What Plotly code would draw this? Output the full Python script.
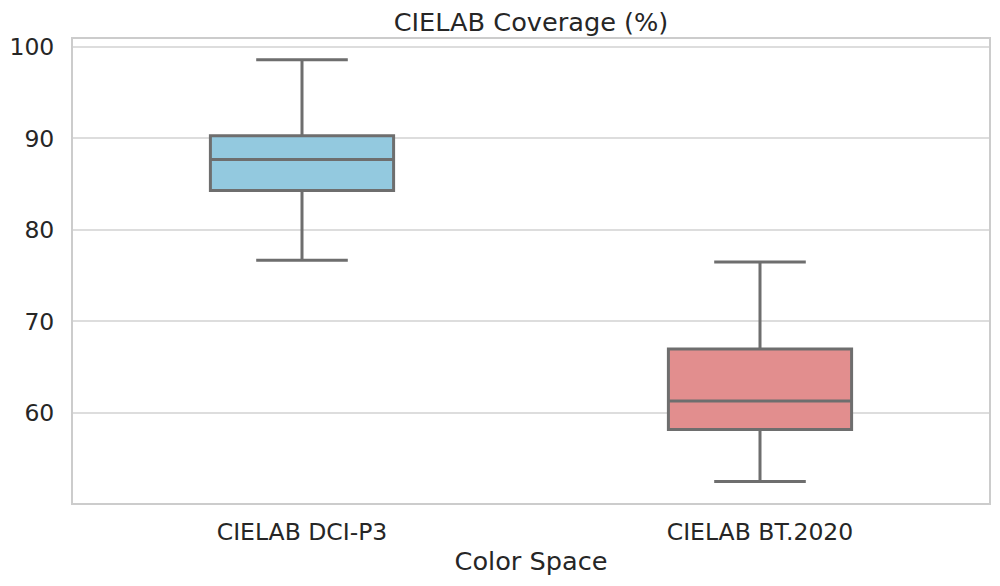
import plotly.graph_objects as go

# box statistics (CIELAB coverage, %)
spaces = ['CIELAB DCI-P3', 'CIELAB BT.2020']
lower_whisker = [76.7, 52.5]
q1 = [84.3, 58.2]
median = [87.7, 61.3]
q3 = [90.3, 67.0]
upper_whisker = [98.6, 76.5]
fills = ['#93C9DF', '#E28E8E']

font_family = 'DejaVu Sans'
text_col = '#262626'

fig = go.Figure()
for i in range(len(spaces)):
    fig.add_trace(go.Box(
        x=[spaces[i]],
        q1=[q1[i]], median=[median[i]], q3=[q3[i]],
        lowerfence=[lower_whisker[i]], upperfence=[upper_whisker[i]],
        width=0.4, whiskerwidth=0.5,
        fillcolor=fills[i],
        line=dict(color='#6e6e6e', width=3),
        boxpoints=False, hoverinfo='skip', showlegend=False,
    ))

# the page body adds ~8px offset, so margins are shifted to compensate
fig.update_layout(
    width=1000, height=586,
    margin=dict(l=65, r=19, t=31, b=91, autoexpand=False),
    paper_bgcolor='white', plot_bgcolor='white',
    font=dict(family=font_family, color=text_col, size=23.5),
    title=dict(text='CIELAB Coverage (%)', x=(65 + 981) / 2 / 1000, xanchor='center',
               y=1 - 14 / 586, yref='container', yanchor='middle',
               font=dict(size=25.6, color=text_col)),
)
fig.update_xaxes(
    range=[-0.5, 1.5], showgrid=False, zeroline=False,
    showline=True, mirror=True, linecolor='#cccccc', linewidth=2,
    ticks='', ticklabelstandoff=7, automargin=False,
    title=dict(text='Color Space', font=dict(size=25.6), standoff=7),
)
fig.update_yaxes(
    range=[50.16, 100.87], tickvals=[60, 70, 80, 90, 100],
    showgrid=True, gridcolor='#dddddd', gridwidth=1.5, zeroline=False,
    showline=True, mirror=True, linecolor='#cccccc', linewidth=2,
    ticks='', ticklabelstandoff=12, automargin=False,
)

fig.write_html('out.html')
